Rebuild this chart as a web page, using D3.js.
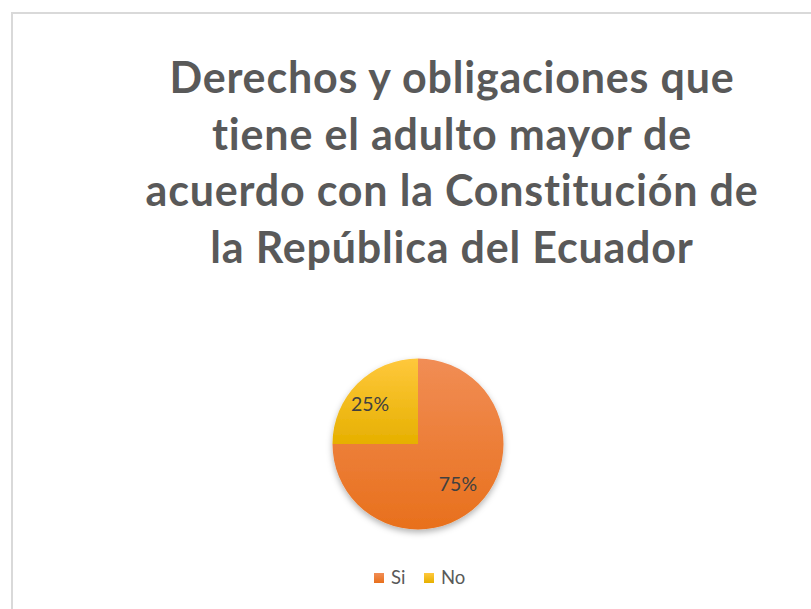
<!DOCTYPE html>
<html>
<head>
<meta charset="utf-8">
<script src="https://cdn.jsdelivr.net/npm/d3@7"></script>
<style>
  body { margin: 0; background: #fff; }
</style>
</head>
<body>
<svg id="chart"></svg>
<script>
// datos
const categories = ["Si", "No"];
const values = [75, 25];
const titleLines = [
  "Derechos y obligaciones que",
  "tiene el adulto mayor de",
  "acuerdo con la Constitución de",
  "la República del Ecuador"
];

const width = 811, height = 609;
const svg = d3.select("#chart").attr("width", width).attr("height", height);

// borde del gráfico
svg.append("rect")
  .attr("x", 12).attr("y", 13)
  .attr("width", 820).attr("height", 620)
  .attr("fill", "#fff")
  .attr("stroke", "#d9d9d9")
  .attr("stroke-width", 2);

const defs = svg.append("defs");
const grad = [
  { id: "gSi", top: "#f18d55", bot: "#e8701c" },
  { id: "gNo", top: "#ffc83c", bot: "#e6b000" }
];
grad.forEach(g => {
  const lg = defs.append("linearGradient").attr("id", g.id)
    .attr("x1", 0).attr("y1", 0).attr("x2", 0).attr("y2", 1);
  lg.append("stop").attr("offset", "0%").attr("stop-color", g.top);
  lg.append("stop").attr("offset", "100%").attr("stop-color", g.bot);
});
const flt = defs.append("filter").attr("id", "sh")
  .attr("x", "-20%").attr("y", "-20%").attr("width", "140%").attr("height", "140%");
flt.append("feDropShadow").attr("dx", 0).attr("dy", 3)
  .attr("stdDeviation", 3).attr("flood-color", "#000").attr("flood-opacity", 0.3);

// título
const title = svg.append("text")
  .attr("text-anchor", "middle")
  .attr("font-family", "Lato, 'Open Sans', sans-serif")
  .attr("font-weight", "bold")
  .attr("font-size", 43)
  .attr("letter-spacing", "0.8px")
  .attr("fill", "#595959");
titleLines.forEach((t, i) => {
  title.append("tspan").attr("x", 452).attr("y", 93 + i * 56.7).text(t);
});

// pastel
const cx = 418, cy = 444, r = 85.5;
const pie = d3.pie().sort(null).value(d => d.value);
const arcs = pie(categories.map((c, i) => ({ name: c, value: values[i] })));
const arc = d3.arc().innerRadius(0).outerRadius(r);
const color = d3.scaleOrdinal().domain(categories).range(["url(#gSi)", "url(#gNo)"]);

const g = svg.append("g").attr("transform", `translate(${cx},${cy})`);
g.append("g").attr("filter", "url(#sh)")
  .selectAll("path")
  .data(arcs)
  .join("path")
  .attr("d", arc)
  .attr("fill", d => color(d.data.name));

const labelArc = d3.arc().innerRadius(r * 0.66).outerRadius(r * 0.66);
g.selectAll("text.lbl")
  .data(arcs)
  .join("text")
  .attr("class", "lbl")
  .attr("transform", d => {
    const [x, y] = labelArc.centroid(d);
    return d.data.name === "No" ? `translate(${x - 8},${y})` : `translate(${x},${y})`;
  })
  .attr("text-anchor", "middle")
  .attr("dy", "0.35em")
  .attr("font-family", "Lato, 'Open Sans', sans-serif")
  .attr("font-size", 19.5)
  .attr("fill", "#404040")
  .text(d => d.data.value + "%");

// leyenda
const legend = svg.append("g").attr("transform", "translate(374,573)");
const items = legend.selectAll("g").data(categories).join("g")
  .attr("transform", (d, i) => `translate(${i * 50},0)`);
items.append("rect").attr("width", 10).attr("height", 10)
  .attr("fill", d => color(d));
items.append("text").attr("x", 17).attr("y", 5).attr("dy", "0.35em")
  .attr("font-family", "Lato, 'Open Sans', sans-serif")
  .attr("font-size", 18.5).attr("fill", "#595959")
  .text(d => d);
</script>
</body>
</html>
